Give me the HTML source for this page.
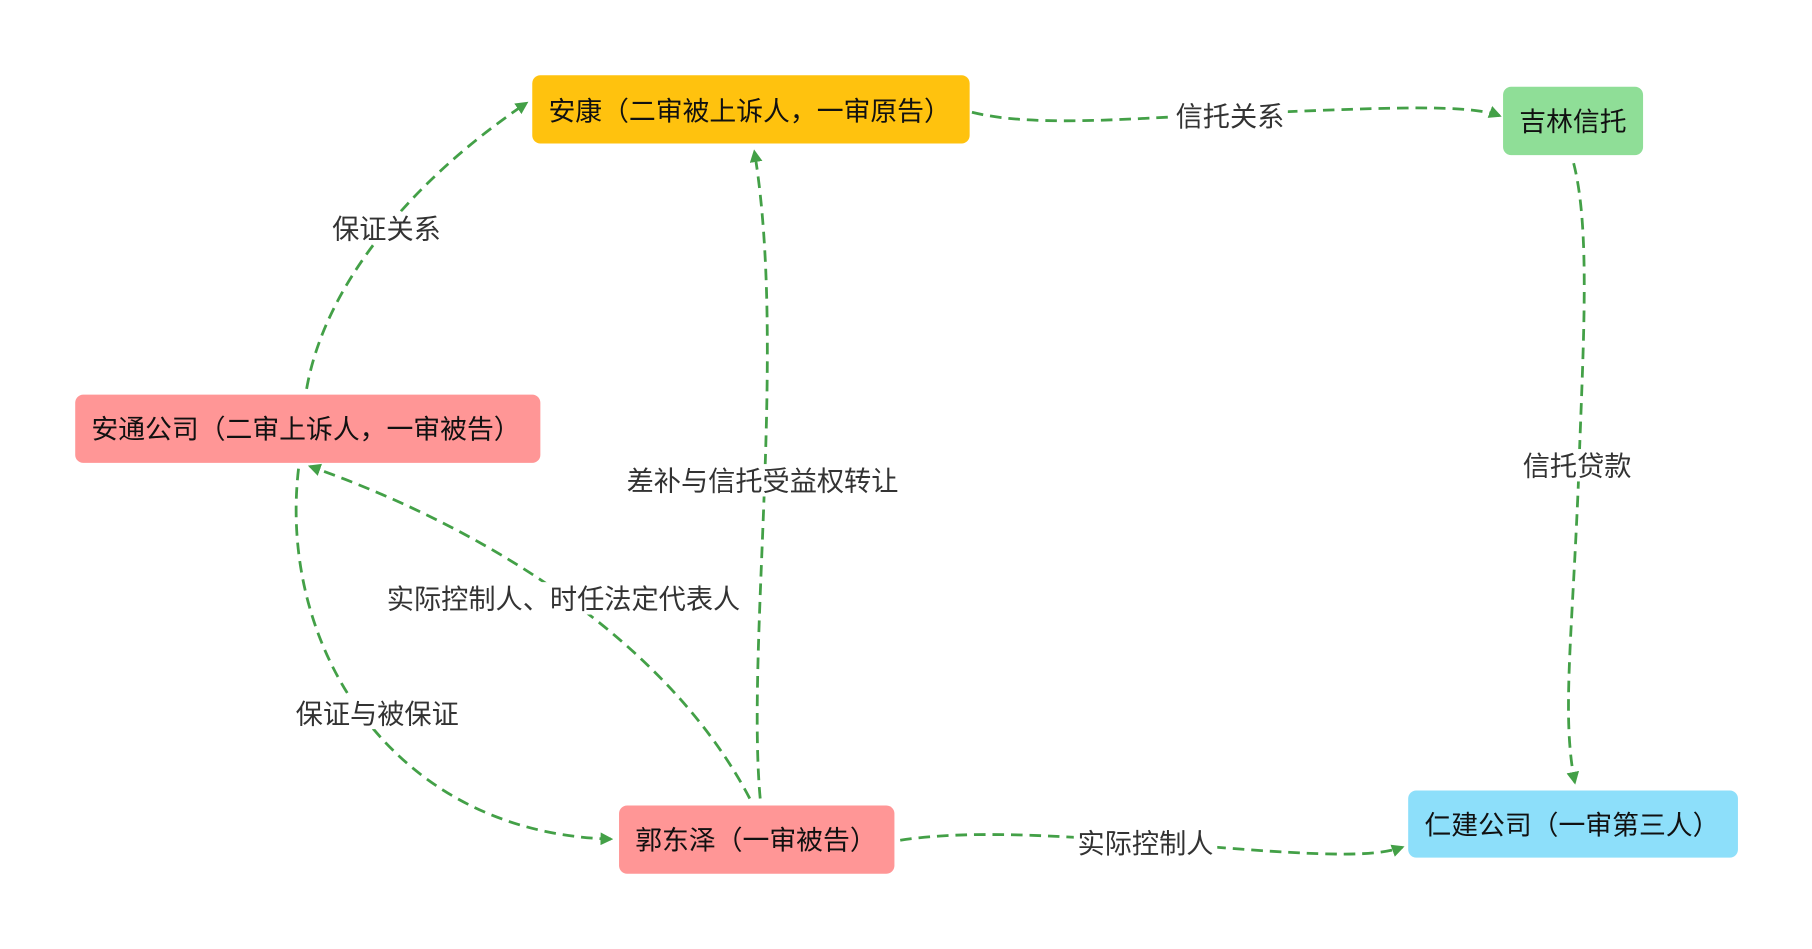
<!DOCTYPE html>
<html><head><meta charset="utf-8"><style>
html,body{margin:0;padding:0;background:#fff;width:1812px;height:949px;overflow:hidden}
svg{display:block}
text{font-family:"Liberation Sans","Noto Sans CJK SC",sans-serif;}
</style></head><body>
<svg width="1812" height="949" viewBox="0 0 1566 820" preserveAspectRatio="none" xmlns="http://www.w3.org/2000/svg">
<defs>
<marker id="a" markerWidth="11" markerHeight="11" refX="9" refY="5.5" orient="auto" markerUnits="userSpaceOnUse">
<path d="M0,0 L11,5.5 L0,11 z" fill="#43a047"/>
</marker>
</defs>
<g fill="none" stroke="#43a047" stroke-width="2.4" stroke-dasharray="10,6" marker-end="url(#a)">
<path d="M265,336 C280,250 350,160 455,89"/>
<path d="M657,690 C645,560 680,300 652,131"/>
<path d="M648,690 C580,560 430,460 268,403"/>
<path d="M258,405 C240,560 340,720 528,725"/>
<path d="M840,97 C900,112 1000,100 1100,97 C1200,93 1270,90 1296,100"/>
<path d="M1360,141 C1375,200 1368,300 1364,420 C1358,560 1350,620 1361,676"/>
<path d="M778,726 C850,715 950,725 1050,732 C1150,740 1190,740 1212,732"/>
</g>
<g fill="#fff">
<rect x="284" y="183" width="100" height="28"/>
<rect x="538" y="401" width="242" height="28"/>
<rect x="332" y="503" width="310" height="28"/>
<rect x="252" y="602" width="148" height="28"/>
<rect x="1013" y="86" width="100" height="28"/>
<rect x="1313" y="388" width="100" height="28"/>
<rect x="928" y="714" width="124" height="28"/>
</g>
<g font-size="23.5" fill="#333" text-anchor="middle">
<text x="334" y="206">保证关系</text>
<text x="659" y="424">差补与信托受益权转让</text>
<text x="487" y="526">实际控制人、时任法定代表人</text>
<text x="326" y="625">保证与被保证</text>
<text x="1063" y="109">信托关系</text>
<text x="1363" y="411">信托贷款</text>
<text x="990" y="737">实际控制人</text>
</g>
<rect x="460" y="65" width="378" height="59" rx="7" fill="#ffc20e"/>
<rect x="1299" y="75" width="121" height="59" rx="7" fill="#8fde97"/>
<rect x="65" y="341" width="402" height="59" rx="7" fill="#ff9696"/>
<rect x="535" y="696" width="238" height="59" rx="7" fill="#ff9696"/>
<rect x="1217" y="683" width="285" height="58" rx="7" fill="#8ddffa"/>
<g font-size="23.2" fill="#111">
<text x="474" y="104">安康（二审被上诉人，一审原告）</text>
<text x="1313" y="113">吉林信托</text>
<text x="79" y="379">安通公司（二审上诉人，一审被告）</text>
<text x="549" y="734">郭东泽（一审被告）</text>
<text x="1231" y="721">仁建公司（一审第三人）</text>
</g>
</svg>
</body></html>
